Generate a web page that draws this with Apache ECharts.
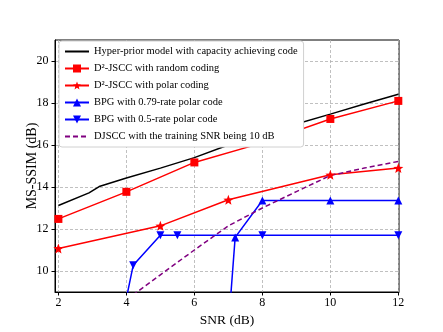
<!DOCTYPE html>
<html>
<head>
<meta charset="UTF-8">
<title>MS-SSIM vs SNR</title>
<script src="https://cdn.jsdelivr.net/npm/echarts@6/dist/echarts.min.js"></script>
<style>
body { margin: 0; background: #fff; }
#chart { width: 443px; height: 332px; }
</style>
</head>
<body>
<div id="chart"></div>
<script>
// data
var xTicks = [2, 4, 6, 8, 10, 12];
var yTicks = [10, 12, 14, 16, 18, 20];

var hyperSnr = [2, 2.9, 3.2, 4, 5, 6, 7, 8, 9, 10, 11, 12];
var hyperVal = [13.12, 13.72, 14.02, 14.43, 14.9, 15.4, 16.0, 16.55, 17.0, 17.47, 17.95, 18.42];

var randSnr = [2, 4, 6, 8, 10, 12];
var randVal = [12.48, 13.77, 15.17, 16.1, 17.24, 18.1];

var polarSnr = [2, 5, 7, 10, 12];
var polarVal = [11.07, 12.15, 13.39, 14.58, 14.9];

var bpg79Snr = [7, 7.2, 8, 10, 12];
var bpg79Val = [7.3, 11.6, 13.36, 13.36, 13.36];

var bpg50Snr = [4, 4.2, 5, 5.5, 8, 12];
var bpg50Val = [8.7, 10.27, 11.7, 11.7, 11.7, 11.7];

var djsccSnr = [4, 5, 6, 7, 8, 9, 10, 11, 12];
var djsccVal = [8.63, 9.82, 11.0, 12.15, 13.0, 13.78, 14.55, 14.9, 15.22];

var names = [
    'Hyper-prior model with capacity achieving code',
    'D\u00b2-JSCC with random coding',
    'D\u00b2-JSCC with polar coding',
    'BPG with 0.79-rate polar code',
    'BPG with 0.5-rate polar code',
    'DJSCC with the training SNR being 10 dB'
];

function pairs(xs, ys) {
    var out = [];
    for (var i = 0; i < xs.length; i++) out.push([xs[i], ys[i]]);
    return out;
}

var STAR = 'path://M12,1 L14.9,8.6 L23,9.1 L16.7,14.3 L18.8,22.2 L12,17.8 L5.2,22.2 L7.3,14.3 L1,9.1 L9.1,8.6 Z';
var TRI_DOWN = 'path://M0,0 L10,0 L5,9 Z';
var TRI_UP = 'path://M5,0 L10,9 L0,9 Z';
var FONT = 'Liberation Serif';

var chart = echarts.init(document.getElementById('chart'));

function lineSeries(name, data, color, symbol, size, dashed) {
    return {
        name: name,
        type: 'line',
        data: data,
        symbol: symbol,
        symbolSize: size,
        showSymbol: symbol !== 'none',
        color: color,
        itemStyle: { color: color },
        lineStyle: { color: color, width: 1.5, type: dashed ? [5, 3] : 'solid' },
        emphasis: { disabled: true },
        animation: false,
        clip: true
    };
}

// lines without markers: hide the default circle in the legend icon
var legendData = names.map(function (n, i) {
    if (i === 0 || i === 5) return { name: n, itemStyle: { opacity: 0 } };
    return { name: n };
});

var option = {
    backgroundColor: '#fff',
    animation: false,
    grid: {
        left: 55, right: 44, top: 40, bottom: 37,
        show: true, borderColor: '#000', borderWidth: 1
    },
    legend: {
        orient: 'vertical',
        left: 59, top: 41,
        padding: [5, 6, 5, 5],
        itemWidth: 24, itemHeight: 10, itemGap: 6,
        backgroundColor: '#fff',
        borderColor: '#d0d0d0', borderWidth: 1, borderRadius: 3,
        textStyle: { fontFamily: FONT, fontSize: 10.5, color: '#000' },
        data: legendData
    },
    xAxis: {
        type: 'value', min: 1.9, max: 12.02,
        name: 'SNR (dB)', nameLocation: 'middle', nameGap: 21,
        nameMoveOverlap: false,
        nameTextStyle: { fontFamily: FONT, fontSize: 13.5, color: '#000' },
        axisLine: { lineStyle: { color: '#000', width: 1 } },
        axisTick: { show: true, length: 3.5, customValues: xTicks, lineStyle: { color: '#000' } },
        axisLabel: { customValues: xTicks, fontFamily: FONT, fontSize: 12, color: '#000', margin: 5 },
        splitLine: { show: true, lineStyle: { color: '#b0b0b0', width: 0.8, type: [3, 2] } }
    },
    yAxis: {
        type: 'value', min: 9, max: 21,
        name: 'MS-SSIM (dB)', nameLocation: 'middle', nameGap: 16,
        nameMoveOverlap: false,
        nameTextStyle: { fontFamily: FONT, fontSize: 14, color: '#000' },
        axisLine: { show: true, lineStyle: { color: '#000', width: 1 } },
        axisTick: { show: true, length: 3.5, customValues: yTicks, lineStyle: { color: '#000' } },
        axisLabel: { customValues: yTicks, fontFamily: FONT, fontSize: 12, color: '#000', margin: 6.5 },
        splitLine: { show: true, lineStyle: { color: '#b0b0b0', width: 0.8, type: [3, 2] } }
    },
    series: [
        lineSeries(names[0], pairs(hyperSnr, hyperVal), '#000000', 'none', 0, false),
        lineSeries(names[1], pairs(randSnr, randVal), '#ff0000', 'rect', 8, false),
        lineSeries(names[2], pairs(polarSnr, polarVal), '#ff0000', STAR, 10, false),
        lineSeries(names[3], pairs(bpg79Snr, bpg79Val), '#0000ff', TRI_UP, 8, false),
        lineSeries(names[4], pairs(bpg50Snr, bpg50Val), '#0000ff', TRI_DOWN, 8, false),
        lineSeries(names[5], pairs(djsccSnr, djsccVal), '#800080', 'none', 0, true)
    ]
};
chart.setOption(option);
</script>
</body>
</html>
